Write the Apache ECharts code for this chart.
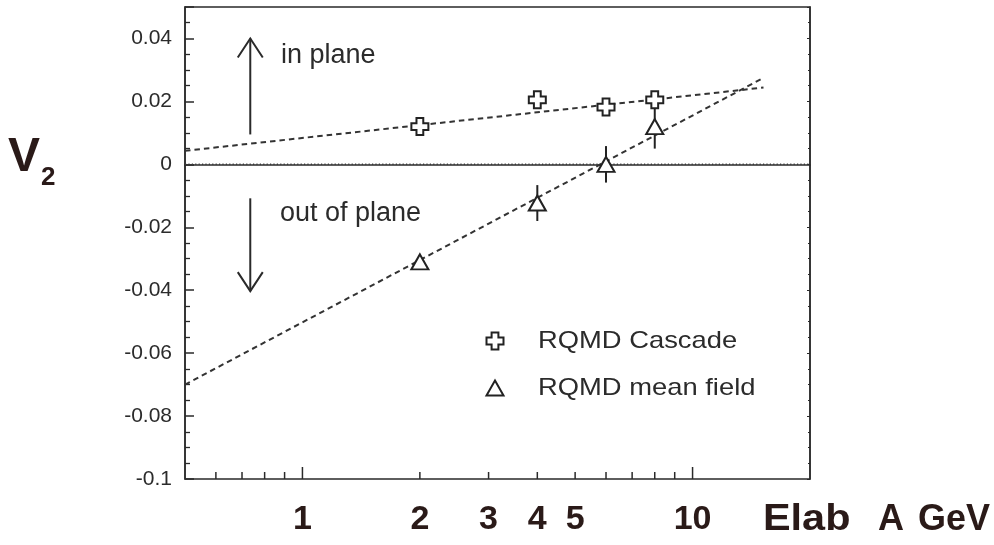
<!DOCTYPE html>
<html>
<head>
<meta charset="utf-8">
<script src="https://cdn.jsdelivr.net/npm/echarts@6/dist/echarts.min.js"></script>
<style>
  html, body { margin: 0; padding: 0; background: #ffffff; }
  #chart { width: 994px; height: 545px; }
</style>
</head>
<body>
<div id="chart"></div>
<script>
// Beam energy (A GeV) and elliptic flow v2 from RQMD
const energies = [2, 4, 6, 8];
const cascadeV2 = [0.012, 0.0205, 0.0182, 0.0205];
const meanFieldV2 = [-0.031, -0.0123, 0.0, 0.012];
const meanFieldErr = [0, 0.0057, 0.0058, 0.007];

// Straight-line fits in log(E), given by their end points [E, v2]
const cascadeFit = [[0.5, 0.0043], [15.2, 0.0244]];
const meanFieldFit = [[0.5, -0.070], [15.0, 0.0271]];
const zeroLine = [[0.5, 0], [20, 0]];

// Log energy axis: tick marks and hand-lettered labels
const xMajorTicks = [1, 10];
const xMinorTicks = [0.6, 0.7, 0.8, 0.9, 2, 3, 4, 5, 6, 7, 8, 9];
const xTickLabels = [1, 2, 3, 4, 5, 10];

// Direction arrows [from, to] and their captions [E, v2, text]
const arrows = [
  [[0.735, 0.0095], [0.735, 0.0400]],
  [[0.735, -0.0108], [0.735, -0.0403]]
];
const captions = [
  [0.881, 0.0347, 'in plane'],
  [0.876, -0.0155, 'out of plane']
];
const seriesNames = ['RQMD Cascade', 'RQMD mean field'];

const INK = '#2a2a2a';
const PEN = '#2a1a18';
const crossPath = 'path://M-1.2,-3L1.2,-3L1.2,-1.2L3,-1.2L3,1.2L1.2,1.2L1.2,3L-1.2,3L-1.2,1.2L-3,1.2L-3,-1.2L-1.2,-1.2Z';

// outline of a hollow plus sign centred on (cx, cy), half-size h
function plusOutline(cx, cy, h) {
  const a = h * 0.4;
  return [
    [cx - a, cy - h], [cx + a, cy - h], [cx + a, cy - a], [cx + h, cy - a],
    [cx + h, cy + a], [cx + a, cy + a], [cx + a, cy + h], [cx - a, cy + h],
    [cx - a, cy + a], [cx - h, cy + a], [cx - h, cy - a], [cx - a, cy - a]
  ];
}

const chart = echarts.init(document.getElementById('chart'), null, { renderer: 'canvas' });

function tickSeries(values, len) {
  return {
    type: 'custom',
    silent: true,
    z: 5,
    data: values.map(v => [v, -0.1]),
    renderItem: (params, api) => {
      const p = api.coord([api.value(0), -0.1]);
      return {
        type: 'line',
        shape: { x1: p[0], y1: p[1], x2: p[0], y2: p[1] - len },
        style: { stroke: INK, lineWidth: 1.5 }
      };
    }
  };
}

const textStyleLeft = { align: 'left', verticalAlign: 'middle' };

const option = {
  animation: false,
  backgroundColor: '#ffffff',
  grid: {
    left: 185, right: 184, top: 7, bottom: 66,
    show: true, borderColor: INK, borderWidth: 1.5, backgroundColor: 'transparent'
  },
  xAxis: {
    type: 'log', logBase: 10, min: 0.5, max: 20,
    axisLine: { show: true, lineStyle: { color: INK, width: 1.5 } },
    axisTick: { show: false },
    axisLabel: { show: false },
    splitLine: { show: false },
    minorTick: { show: false }
  },
  yAxis: [
    {
      type: 'value', min: -0.1, max: 0.05, interval: 0.02,
      axisLine: { show: true, lineStyle: { color: INK, width: 1.5 } },
      axisTick: { show: true, inside: true, length: 9, lineStyle: { color: INK, width: 1.5 } },
      minorTick: { show: true, splitNumber: 4, length: 5, lineStyle: { color: INK, width: 1.3 } },
      splitLine: { show: false },
      axisLabel: {
        show: true, showMaxLabel: false, margin: 13,
        color: '#2b2b2b', fontSize: 21, fontFamily: '"Liberation Sans", Arial, sans-serif',
        formatter: v => (v > 0.045 ? '' : String(Math.round(v * 1000) / 1000))
      }
    },
    {
      type: 'value', min: -0.1, max: 0.05, interval: 0.02, position: 'right',
      axisLine: { show: true, lineStyle: { color: INK, width: 1.5 } },
      axisTick: { show: true, inside: true, length: 3, lineStyle: { color: INK, width: 1 } },
      minorTick: { show: true, splitNumber: 4, length: 2, lineStyle: { color: INK, width: 1 } },
      splitLine: { show: false },
      axisLabel: { show: false }
    }
  ],
  series: [
    {
      name: 'zero', type: 'line', data: zeroLine, symbol: 'none', silent: true, z: 2,
      lineStyle: { color: '#3a3a3a', width: 1.5, type: [1.2, 2.2] }
    },
    {
      name: 'cascade fit', type: 'line', data: cascadeFit, symbol: 'none', silent: true, z: 2,
      lineStyle: { color: '#333', width: 2, type: [5.5, 4] }
    },
    {
      name: 'mean field fit', type: 'line', data: meanFieldFit, symbol: 'none', silent: true, z: 2,
      lineStyle: { color: '#333', width: 2, type: [5.5, 4] }
    },
    {
      name: 'mean field errors', type: 'custom', silent: true, z: 3,
      data: energies.map((e, i) => [e, meanFieldV2[i]]),
      renderItem: (params, api) => {
        const i = params.dataIndex;
        const err = meanFieldErr[i];
        if (!err) return null;
        const lo = api.coord([energies[i], meanFieldV2[i] - err]);
        const hi = api.coord([energies[i], meanFieldV2[i] + err]);
        return {
          type: 'line',
          shape: { x1: lo[0], y1: lo[1], x2: hi[0], y2: hi[1] },
          style: { stroke: '#222', lineWidth: 2 }
        };
      }
    },
    {
      name: seriesNames[0], type: 'scatter', z: 4,
      data: energies.map((e, i) => [e, cascadeV2[i]]),
      symbol: crossPath, symbolSize: 17,
      itemStyle: { color: '#ffffff', borderColor: '#222', borderWidth: 2, opacity: 1 }
    },
    {
      name: seriesNames[1], type: 'scatter', z: 4,
      data: energies.map((e, i) => [e, meanFieldV2[i]]),
      symbol: 'triangle', symbolSize: [17, 15],
      itemStyle: { color: '#ffffff', borderColor: '#222', borderWidth: 2, opacity: 1 }
    },
    {
      name: 'arrows', type: 'custom', silent: true, z: 4,
      data: arrows.map(a => a[0]),
      renderItem: (params, api) => {
        const a = arrows[params.dataIndex];
        const p1 = api.coord(a[0]);
        const p2 = api.coord(a[1]);
        const dir = p2[1] < p1[1] ? 1 : -1;
        return {
          type: 'group',
          children: [
            {
              type: 'line',
              shape: { x1: p1[0], y1: p1[1], x2: p2[0], y2: p2[1] },
              style: { stroke: INK, lineWidth: 2 }
            },
            {
              type: 'polyline',
              shape: { points: [[p2[0] - 12.5, p2[1] + dir * 19], [p2[0], p2[1]], [p2[0] + 12.5, p2[1] + dir * 19]] },
              style: { stroke: INK, lineWidth: 2, fill: null }
            }
          ]
        };
      }
    },
    {
      name: 'captions', type: 'custom', silent: true, z: 4,
      data: captions.map(c => [c[0], c[1]]),
      renderItem: (params, api) => {
        const c = captions[params.dataIndex];
        const p = api.coord([c[0], c[1]]);
        return {
          type: 'text', x: p[0], y: p[1],
          style: Object.assign({
            text: c[2], fill: '#2b2b2b',
            font: '27px "Liberation Sans", Arial, sans-serif'
          }, textStyleLeft)
        };
      }
    },
    tickSeries(xMajorTicks, 12),
    tickSeries(xMinorTicks, 7),
    {
      name: 'energy labels', type: 'custom', silent: true, z: 4,
      data: xTickLabels.map(v => [v, -0.1]),
      renderItem: (params, api) => {
        const v = xTickLabels[params.dataIndex];
        const p = api.coord([v, -0.1]);
        return {
          type: 'text', x: p[0], y: p[1] + 41,
          style: {
            text: String(v), fill: PEN,
            font: 'bold 34px "Liberation Sans", Arial, sans-serif',
            align: 'center', verticalAlign: 'middle'
          }
        };
      }
    }
  ],
  graphic: [
    // hand-lettered axis titles
    {
      type: 'text', x: 8, y: 158,
      style: Object.assign({ text: 'V', fill: PEN, font: 'bold 48px "Liberation Sans", Arial, sans-serif' }, textStyleLeft)
    },
    {
      type: 'text', x: 41, y: 178,
      style: Object.assign({ text: '2', fill: PEN, font: 'bold 26px "Liberation Sans", Arial, sans-serif' }, textStyleLeft)
    },
    {
      type: 'text', x: 763, y: 520, scaleX: 1.15,
      style: Object.assign({ text: 'Elab', fill: PEN, font: 'bold 36px "Liberation Sans", Arial, sans-serif' }, textStyleLeft)
    },
    {
      type: 'text', x: 878, y: 520,
      style: Object.assign({ text: 'A', fill: PEN, font: 'bold 36px "Liberation Sans", Arial, sans-serif' }, textStyleLeft)
    },
    {
      type: 'text', x: 918, y: 520,
      style: Object.assign({ text: 'GeV', fill: PEN, font: 'bold 36px "Liberation Sans", Arial, sans-serif' }, textStyleLeft)
    },
    // legend
    {
      type: 'polygon',
      shape: { points: plusOutline(495, 341, 8.5) },
      style: { fill: '#ffffff', stroke: '#222', lineWidth: 2 }
    },
    {
      type: 'polygon',
      shape: { points: [[495, 380.5], [503.5, 395.5], [486.5, 395.5]] },
      style: { fill: '#ffffff', stroke: '#222', lineWidth: 2 }
    },
    {
      type: 'text', x: 538, y: 341, scaleX: 1.14,
      style: Object.assign({ text: seriesNames[0], fill: '#2b2b2b', font: '24px "Liberation Sans", Arial, sans-serif' }, textStyleLeft)
    },
    {
      type: 'text', x: 538, y: 388, scaleX: 1.14,
      style: Object.assign({ text: seriesNames[1], fill: '#2b2b2b', font: '24px "Liberation Sans", Arial, sans-serif' }, textStyleLeft)
    }
  ]
};

chart.setOption(option);
</script>
</body>
</html>
